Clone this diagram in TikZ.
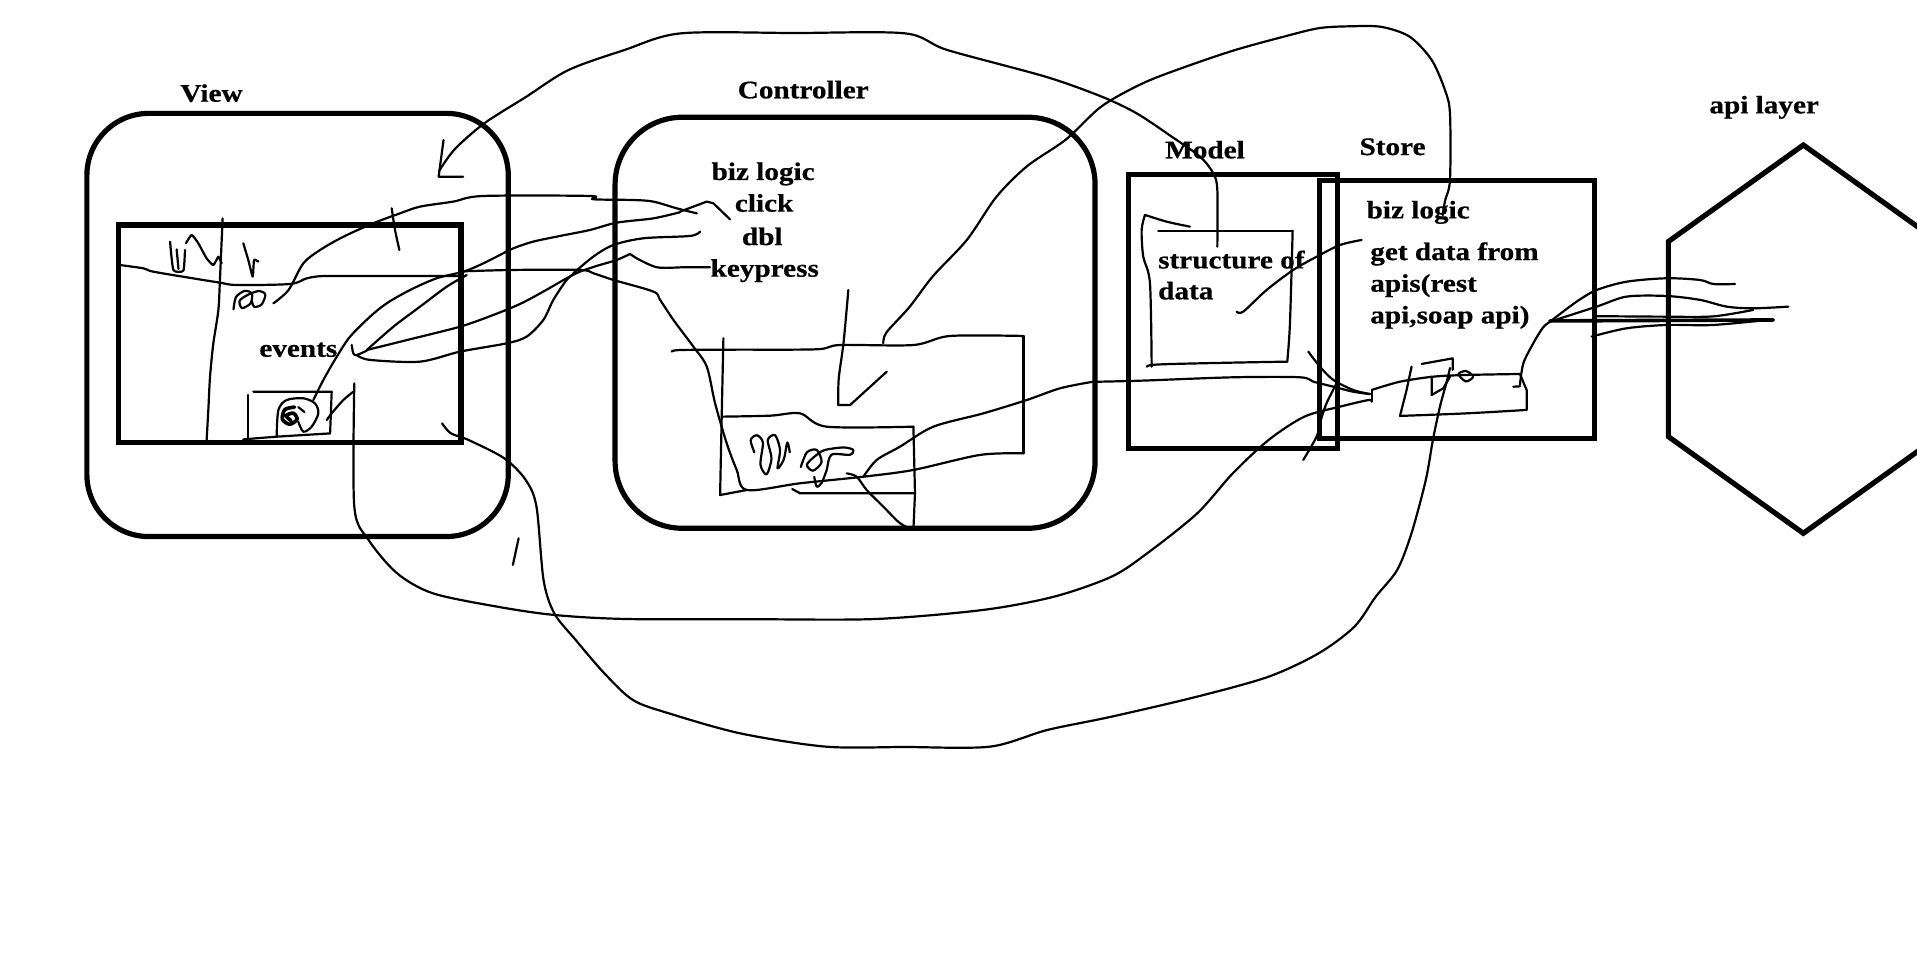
\documentclass[tikz,border=0pt]{standalone}
\usepackage{fontspec}
\setmainfont{Liberation Serif}[FakeStretch=1.16,BoldFeatures={FakeBold=0.6}]
\begin{document}
\begin{tikzpicture}[x=0.6113pt,y=-0.6113pt,
  lbl/.style={inner sep=0pt,font=\fontsize{12.6pt}{14pt}\selectfont\bfseries},
  thickbox/.style={draw,line width=2.6pt,inner sep=0pt},
  sk/.style={line width=1.1pt,line cap=round,line join=round},
  skb/.style={line width=1.8pt,line cap=round,line join=round}]
\useasboundingbox (0,0) rectangle (1568,779);
\clip (0,0) rectangle (1568,779);
% ---------- boxes ----------
\node[thickbox,rounded corners=31pt,minimum width=210.7pt,minimum height=211.6pt] (view) at (243.4,265.8) {};
\node[thickbox,minimum width=171.3pt,minimum height=108.8pt] (viewin) at (236.9,273) {};
\node[thickbox,rounded corners=33.6pt,minimum width=240pt,minimum height=205.5pt] (ctrl) at (699.4,264) {};
\node[thickbox,minimum width=104.7pt,minimum height=137pt] (model) at (1008.5,254.65) {};
\node[thickbox,minimum width=137.2pt,minimum height=128.8pt] (store) at (1191.8,253.15) {};
\draw[line width=2.6pt,line join=miter] (1475,118.6) -- (1585.4,197.6) -- (1585.4,357.1) -- (1475,436.2) -- (1364.6,357.1) -- (1364.6,197.6) -- cycle;
\coordinate (api) at (1475,277);
% ---------- labels ----------
\node[lbl,anchor=base] (tview) at (173,83.2) {View};
\node[lbl,anchor=base] (tevents) at (244,291.8) {events};
\node[lbl,anchor=base] (tctrl) at (657,80.4) {Controller};
\node[lbl,anchor=base] (tbiz) at (624.2,147.2) {biz logic};
\node[lbl,anchor=base] (tclick) at (625,173.1) {click};
\node[lbl,anchor=base] (tdbl) at (623.5,200.4) {dbl};
\node[lbl,anchor=base] (tkey) at (625.5,226.3) {keypress};
\node[lbl,anchor=base] (tmodel) at (985.6,129.5) {Model};
\node[lbl,anchor=base west] (tstruct) at (947,219.5) {structure of};
\node[lbl,anchor=base west] (tdata) at (947,244.8) {data};
\node[lbl,anchor=base] (tstore) at (1139,126.8) {Store};
\node[lbl,anchor=base west] (tsbiz) at (1117.5,178.6) {biz logic};
\node[lbl,anchor=base west] (tget) at (1120.5,212.7) {get data from};
\node[lbl,anchor=base west] (tapis) at (1120.5,238.6) {apis(rest};
\node[lbl,anchor=base west] (tsoap) at (1120.5,264.5) {api,soap api)};
\node[lbl,anchor=base] (tapi) at (1443,92.7) {api layer};
% ---------- big loops ----------
\draw[sk] (362.8,114.5) -- (358.8,144.5) -- (378.8,144.5);
\draw[sk] plot[smooth] coordinates {(359,140) (372,122) (396.1,100.9) (430.5,79.1) (464.9,57.3) (510.8,40.9) (556.7,27.3) (650,27) (740.3,27.3) (774.8,40.9) (855.1,62.7) (901,79) (929.7,92.7) (958.4,111.8) (981.5,128.1) (992.4,141.8) (995.7,155.4) (995.7,201.8)};
\draw[sk] plot[smooth] coordinates {(722.5,280.8) (725,272) (744,251) (763,226) (791,196) (815,161) (840,136) (872,114) (901,87) (935,68) (970,54.5) (1010,41) (1050,30) (1079,23) (1105,21.5) (1130,22) (1153,30) (1171,49) (1182,74) (1186,93) (1186,147) (1182,164) (1180,176)};
\draw[sk] plot[smooth] coordinates {(289.8,313.6) (289.8,414.4) (301.5,441.7) (324.8,468.9) (354.1,485.3) (406.6,496.2) (453.4,503) (511.8,506.3) (616,506.5) (716.3,506.3) (804,498.9) (862.3,488) (909.1,471.7) (938.3,452.6) (979.2,419.9) (1008.4,387.1) (1037.6,359.9) (1066.9,340.8) (1096.1,332.6) (1119.4,327.2) (1121.9,328.5)};
\draw[sk] plot[smooth] coordinates {(361.6,346.3) (368.7,354.4) (383.3,359.9) (412.5,374.9) (430,392.6) (438.8,414.4) (444.6,474.4) (453.4,501.7) (470.9,523.5) (494.3,550.7) (517.6,572.5) (546.9,583.4) (605.3,599.8) (675.4,610.7) (740,611) (809.8,610.7) (856.5,597.1) (909.1,586.2) (979.2,569.8) (1037.6,553.5) (1078.5,534.4) (1107.8,512.6) (1125.3,488) (1142.8,466.2) (1154.5,436.2) (1166.2,392.6) (1172,359.9) (1177.8,332.6) (1183.7,310.8) (1186,301)};
\draw[sk] (424.2,440.3) -- (419.5,462.1);
% ---------- view inner sketches ----------
\draw[sk] plot[smooth] coordinates {(182.1,178.6) (180,226.3) (178.6,253.6) (174.5,280.9) (171.8,308.1) (170.4,335.4) (169,359.9)};
\draw[sk] plot[smooth,tension=0.3] coordinates {(139.1,197.7) (141.8,220.9) (150,221.4) (151.3,204.5)};
\draw[sk] (144.5,204) -- (146,220);
\draw[sk] plot[smooth,tension=0.3] coordinates {(152.1,199) (156.8,192.2) (162.2,199) (169,211.3) (174.5,216.8) (178.6,210) (181.3,215.4)};
\draw[sk] plot[smooth,tension=0.3] coordinates {(199,199) (203.1,212.7) (206.7,226.3) (207.8,212.7) (211.3,214)};
\draw[sk] plot[smooth] coordinates {(191,253) (193,243) (200,238) (206,240) (205,248) (198,252) (196,246) (203,241) (212,238) (217,241) (214,249) (208,251) (206,246)};
\draw[sk] (207.2,320.4) -- (271.3,320.4) -- (270,354.5);
\draw[sk] plot[smooth] coordinates {(270,354.5) (226.3,357.2) (199,359.4)};
\draw[sk] (203.1,323.1) -- (203.1,359.4);
\draw[sk] plot[smooth] coordinates {(226.3,357.2) (227.7,335.4) (234.5,327.2) (248.1,325.8) (257.6,329.9) (260.4,338.1) (254.9,349) (248.1,353.1) (244,345)};
\draw[skb] plot[smooth] coordinates {(241,333) (233,335) (231,343) (237,347) (243,343) (240,338) (234,340) (238,344)};
\draw[sk] (244,333) -- (249,337);
\draw[sk] plot[smooth] coordinates {(98.2,216.8) (117.2,219.5) (125.4,222.2) (158.1,227.7) (179.9,231.2) (193.6,233.1) (237.2,232.3) (250.8,227.7) (264.5,225.8) (302.6,225.8) (376.3,225.8)};
\draw[sk] plot[smooth] coordinates {(376.3,222) (420,220.8) (474.4,220.8) (485.3,223.5) (501.7,229) (534.4,238.5) (539.9,245.3) (550.8,261.7) (567.1,283.5) (578.1,299.9) (584.9,329.9) (594.4,362.6) (602.6,384.4) (610.8,400.8) (654.4,395.3) (706.2,389.9) (747.1,384.4) (801.6,372.1) (837.1,370.8)};
\draw[sk] (837.1,370.8) -- (837.1,274.8);
\draw[sk] plot[smooth] coordinates {(837.1,274.8) (777.1,274.8) (747.1,282.2) (687.1,282.2) (668,285.7) (600,286) (556.2,286.3) (549.4,287.6)};
% ---------- view -> controller lines ----------
\draw[sk] plot[smooth] coordinates {(223.6,248.1) (236,237.2) (248.1,215.4) (261.8,204.5) (280.9,193.6) (305.4,182.6) (327.2,174.5) (343.6,169) (370.8,164.9) (395.4,160.3) (482.6,160.3) (485.3,163) (518,163.6) (534.4,164.9) (553.5,170.4) (569.9,174.5)};
\draw[sk] (556.2,173.1) -- (578.1,164.9) -- (583.5,166.3) -- (597.1,179.4);
\draw[sk] plot[smooth] coordinates {(320.4,170.4) (323.1,188.1) (326.7,204.5)};
\draw[sk] plot[smooth] coordinates {(256.3,327.2) (264.5,310.8) (275.4,291.8) (286.3,275.4) (302.7,259) (316.3,248.1) (335.4,237.2) (357.2,227.6) (379,222.2) (392.6,216.7) (406.3,209.9) (419.9,203.1) (436.3,197.6) (458.1,193) (482.6,188.1) (504.5,182.1) (534.4,178.6) (556.2,173.6)};
\draw[sk] plot[smooth] coordinates {(287.7,282.2) (289,289) (291.8,290.4) (300,286.8)};
\draw[sk] plot[smooth] coordinates {(300,286.3) (321.8,267.2) (343.6,250.8) (365.4,234.5) (381.7,225)};
\draw[sk] plot[smooth] coordinates {(300,286.3) (335.4,277.5) (376.3,267.2) (403.6,257.6) (425.4,248.6) (444.4,238.5) (463.5,227.6) (474.4,222.2) (488.1,217.5) (504.5,212.6) (515.3,207.7)};
\draw[sk] (515.3,207.7) -- (519.4,210.5);
\draw[sk] plot[smooth] coordinates {(519.4,210.5) (537.2,218.6) (560,218.6) (580.8,218.6)};
\draw[sk] plot[smooth] coordinates {(291.8,290.4) (302.7,294.4) (343.6,295.8) (376.3,287.6) (414.5,280.8) (430.8,275.3) (444.4,261.7) (452.6,245.3) (463.5,229) (471.7,222.2)};
\draw[sk] plot[smooth] coordinates {(469,223.5) (485.3,209.9) (501.7,200.4) (526.3,194.9) (564.4,193) (572.6,189.5)};
\draw[sk] plot[smooth] coordinates {(267.2,343.6) (271.3,338.1) (280.8,327.2) (289,320.4)};
% ---------- controller inner sketches ----------
\draw[sk] (591.7,276.7) -- (590.3,340.8) -- (589,404.9) -- (610.8,400.8);
\draw[sk] plot[smooth] coordinates {(590.3,340.8) (630,340) (654.4,338.1) (676.2,349) (747.1,349)};
\draw[sk] (747.1,349) -- (748.4,403.5) -- (747.1,433.5);
\draw[sk] (748.4,403.5) -- (654.4,403.5) -- (648,400);
\draw[sk] plot[smooth] coordinates {(693.9,237.2) (690,280) (686,310) (685.7,331.3)};
\draw[sk] (685.7,331.3) -- (695.3,331.3) -- (725.3,304);
\draw[sk] plot[smooth] coordinates {(617,370) (614,360) (619,356) (624,362) (622,380) (627,388) (631,375) (628,360) (634,356) (638,368) (636,383) (641,376) (644,362) (646,370)};
\draw[sk] plot[smooth] coordinates {(655,382) (660,370) (668,368) (672,378) (665,385) (660,380) (668,372) (675,368) (690,366) (698,368) (695,372) (680,372) (676,385) (672,395) (668,398) (666,390)};
\draw[sk] plot[smooth] coordinates {(692.6,387.2) (700.7,389.9) (708.9,400.8) (722.5,414.4) (736.2,428) (747.1,433.5)};
\draw[sk] plot[smooth] coordinates {(1120.5,322.3) (1106.9,320.4) (1090.6,316.3) (1074.2,312.2) (1063.3,308.6) (1008.8,308.6) (935.2,311.3) (899.7,312.2) (894.3,312.2) (867.1,317.6) (839.8,327.2) (804.3,338.1) (763.4,349) (736.2,365.3) (717.1,376.2) (706.2,389.9)};
% ---------- model / store sketches ----------
\draw[sk] plot[smooth] coordinates {(1070.1,287.6) (1079.6,299.9) (1090.6,310.8) (1106.9,319) (1120.5,322.3)};
\draw[sk] plot[smooth] coordinates {(1066,376.2) (1076.9,357.2) (1079.6,346.2) (1085,329.9) (1093.3,313.5)};
\draw[sk] plot[smooth] coordinates {(936.5,175.8) (933.8,188.1) (935.1,209.9) (940.6,231.7) (942,299.9)};
\draw[sk] plot[smooth] coordinates {(936.5,175.8) (954.2,181.3) (973.3,185.4)};
\draw[sk] (947.4,188.7) -- (1057.3,188.7);
\draw[sk] plot[smooth] coordinates {(1057.3,188.7) (1055.1,264.5) (1052.9,295.8)};
\draw[sk] plot[smooth] coordinates {(1052.9,295.8) (1008.8,296.6) (959.7,297.7) (942,298.5) (937.9,299.9)};
\draw[sk] plot[smooth] coordinates {(1011.5,254.9) (1016.9,254.9) (1036,237.2) (1057.8,220.8) (1076.9,210) (1096,200.4) (1113.7,196.3)};
\draw[sk] (1121.9,328.5) -- (1121.9,319);
\draw[sk] plot[smooth] coordinates {(1121.9,319) (1145.1,312.2) (1172.3,308.1) (1199.6,306.7) (1243.2,305.9)};
\draw[sk] (1243.2,305.9) -- (1248.7,319) -- (1248.7,335.3);
\draw[sk] plot[smooth] coordinates {(1248.7,335.3) (1199.6,338.1) (1145.1,340.2)};
\draw[sk] (1145.1,340.2) -- (1150.5,319) -- (1154.6,299.9);
\draw[sk] (1162.8,297.7) -- (1188.2,293.1) -- (1188.2,302.6);
\draw[sk] (1171,308.1) -- (1171,323.1) -- (1180.5,317.6) -- (1186,308.1);
\draw[sk] plot[smooth cycle] coordinates {(1193,306) (1199,303.5) (1205,308) (1199,312)};
\draw[sk] (1237.8,316.3) -- (1243.2,316);
% ---------- store -> api ----------
\draw[sk] plot[smooth] coordinates {(1243.2,314.9) (1246,297.2) (1254.1,280.8) (1262,268) (1267.8,263.1)};
\draw[sk] plot[smooth] coordinates {(1267.8,263.1) (1289.6,246.7) (1306,237.2) (1330.5,230.4) (1363.2,227.6) (1390.5,229) (1401.4,232.3) (1419.1,232.3)};
\draw[sk] plot[smooth] coordinates {(1267.8,263.1) (1306,250.8) (1330.5,242.6) (1363.2,242.1) (1390.5,245.3) (1412.3,250.8) (1434.1,252.2) (1462.7,250.8)};
\draw[skb] (1267.8,262.5) -- (1450.5,261.7);
\draw[sk] plot[smooth] coordinates {(1306,258.6) (1360,259) (1401,258.8) (1434,253.5)};
\draw[sk] plot[smooth] coordinates {(1301.9,275.3) (1330.5,268.5) (1363.2,265.8) (1401.4,265.8) (1450.5,261.2)};
\end{tikzpicture}
\end{document}
